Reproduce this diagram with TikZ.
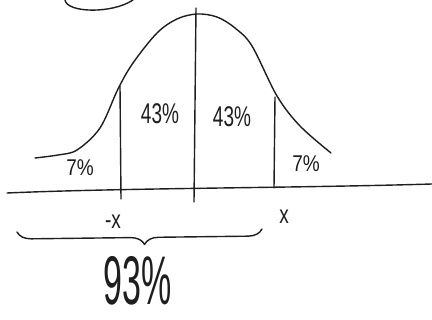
\documentclass[tikz,border=0pt]{standalone}
\usepackage{fontspec}
\setmainfont{Liberation Sans}
\usepackage{tikz}
\usetikzlibrary{decorations.pathreplacing}
\definecolor{inkgrey}{RGB}{30,30,30}
\tikzset{
  ink/.style={draw=inkgrey, line width=1.4pt, line cap=round, line join=round},
  hand/.style={text=inkgrey, inner sep=0pt, yscale=1.5, transform shape, font=\fontsize{19}{22}\selectfont},
  bighand/.style={hand, yscale=1.35, font=\fontsize{34}{38}\selectfont},
  brc/.style={ink, decorate, decoration={brace, mirror, amplitude=14pt, aspect=0.52}},
}

\begin{document}
\begin{tikzpicture}[x=1pt, y=-1pt]
  \useasboundingbox (0,0) rectangle (432,320);
  % loop cut off at the top
  \draw[ink] (65,0) .. controls (67,13) and (112,14) .. (133,0);
  % axis
  \coordinate (axl) at (7,193);
  \coordinate (axr) at (432,184);
  \draw[ink] (axl) .. controls (120,188) and (300,188) .. (axr);
  % bell curve
  \draw[ink] plot[smooth, tension=0.55] coordinates {(35,158) (58,155) (77,150) (100,128) (118,89) (133,63) (157,33) (177,19) (197,14) (217,17) (235,28) (252,46) (277,96) (300,126) (331,153)};
  % dividers
  \coordinate (lt) at (120,86);   \coordinate (lb) at (121,199);
  \coordinate (ct) at (196,8);    \coordinate (cb) at (194,202);
  \coordinate (rt) at (275,97);   \coordinate (rb) at (274,188);
  \draw[ink] (lt) -- (lb);
  \draw[ink] (ct) -- (cb);
  \draw[ink] (rt) -- (rb);
  % areas
  \node[hand] (pl) at (160,114) {43\%};
  \node[hand] (pr) at (232,117) {43\%};
  \node[hand, yscale=0.8] (tl) at (80,168) {7\%};
  \node[hand, yscale=0.8] (tr) at (306,164) {7\%};
  % bounds
  \node[hand, yscale=0.9] (mx) at (113,222) {-x};
  \node[hand, yscale=0.9] (px) at (284,217) {x};
  \coordinate (bl) at (17,232);
  \coordinate (br) at (262,229);
  \draw[brc] (bl) -- (br);
  \node[bighand] (tot) at (138,281) {93\%};
\end{tikzpicture}
\end{document}
